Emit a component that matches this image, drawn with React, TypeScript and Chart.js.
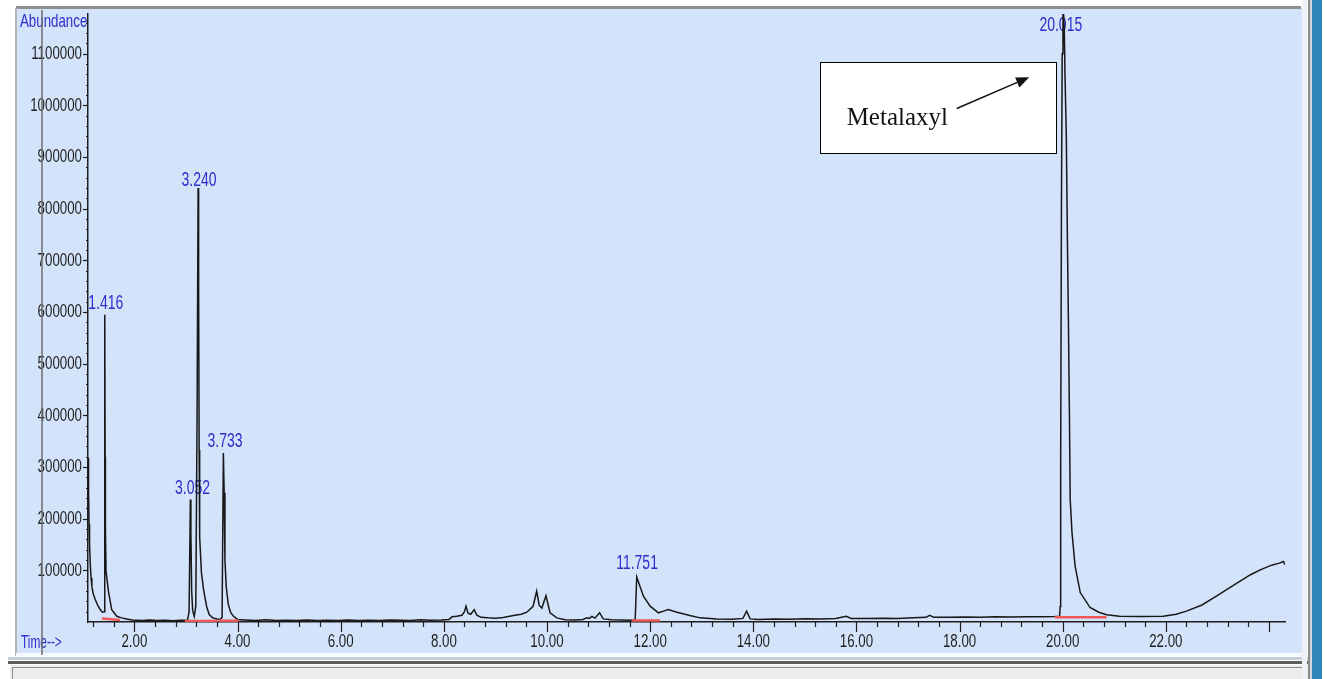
import React, { useEffect, useRef } from "react";
import { Chart, registerables } from "chart.js";

Chart.register(...registerables);

const W = 1325;
const H = 679;

// ---- chromatogram trace (retention time, abundance) ----
const traceTimes = [
  1.103, 1.108, 1.113, 1.12, 1.13, 1.145, 1.16, 1.175, 1.2, 1.24, 1.29, 1.336, 1.38,
  1.415, 1.425, 1.432, 1.438, 1.45, 1.5, 1.56, 1.66, 1.75, 1.85, 1.95, 2.05, 2.15,
  2.3, 2.45, 2.6, 2.75, 2.9, 3.03, 3.06, 3.085, 3.095, 3.11, 3.13, 3.16, 3.19, 3.215,
  3.235, 3.245, 3.255, 3.265, 3.3, 3.34, 3.4, 3.45, 3.52, 3.6, 3.66, 3.7, 3.725, 3.74,
  3.755, 3.78, 3.82, 3.87, 3.92, 4.0, 4.15, 4.35, 4.55, 4.75, 4.95, 5.15, 5.35, 5.55,
  5.75, 5.95, 6.15, 6.35, 6.55, 6.75, 6.95, 7.15, 7.35, 7.55, 7.75, 7.95, 8.1, 8.16,
  8.25, 8.35, 8.4, 8.43, 8.47, 8.52, 8.59, 8.64, 8.72, 8.85, 9.0, 9.15, 9.35, 9.5,
  9.61, 9.73, 9.8, 9.85, 9.9, 9.98, 10.03, 10.06, 10.19, 10.35, 10.55, 10.7, 10.77,
  10.82, 10.87, 10.93, 11.02, 11.09, 11.25, 11.45, 11.62, 11.71, 11.74, 11.79, 11.87,
  12.0, 12.16, 12.26, 12.35, 12.52, 12.77, 12.97, 13.29, 13.6, 13.8, 13.87, 13.94,
  14.1, 14.4, 14.7, 15.0, 15.3, 15.6, 15.8, 15.9, 16.2, 16.5, 16.8, 17.1, 17.35, 17.42,
  17.5, 17.8, 18.1, 18.4, 18.7, 19.0, 19.3, 19.6, 19.85, 19.94, 19.95, 19.96, 19.975,
  19.99, 20.005, 20.03, 20.045, 20.07, 20.09, 20.11, 20.13, 20.145, 20.18, 20.24, 20.34,
  20.53, 20.7, 20.85, 21.1, 21.5, 21.95, 22.2, 22.4, 22.7, 22.98, 23.2, 23.44, 23.65,
  23.83, 24.05, 24.2, 24.28, 24.31,
];

const traceAbundance = [
  240000, 318000, 250000, 190000, 150000, 110000, 85000, 69000, 55000, 43500, 32000, 24000, 19000,
  20000, 595000, 320000, 180000, 98000, 57000, 24000, 11000, 8000, 6000, 4000, 3500, 3000,
  4000, 3000, 3500, 2500, 3500, 4000, 20000, 237000, 173000, 60000, 22000, 11000, 30000, 400000,
  840000, 650000, 333000, 165000, 95000, 63000, 30000, 14500, 8000, 6000, 5000, 9000, 327000, 250000,
  120000, 69000, 34000, 18000, 11000, 5000, 4000, 3000, 4500, 3000, 3500, 3000, 4000, 3000,
  3500, 3000, 4000, 3000, 3500, 3000, 4000, 3500, 3000, 4500, 3500, 4000, 5000, 10000,
  11000, 13000, 20000, 30500, 17000, 15000, 24000, 13000, 9000, 8000, 7500, 8500, 12500, 15000,
  19000, 30500, 59600, 32000, 27000, 51000, 30000, 17800, 8000, 4500, 4000, 5000, 8000,
  7000, 11000, 7500, 18000, 6000, 4500, 4000, 3500, 4500, 87000, 72500, 50000,
  30600, 17800, 21000, 24000, 19000, 12600, 8000, 6000, 5500, 7000, 21000, 6000,
  5000, 6000, 5500, 6500, 6000, 7000, 11000, 7000, 7000, 7500, 7000, 8000, 9000, 13000,
  9000, 9000, 9500, 9000, 10000, 9500, 10000, 10000, 10500, 11000, 30000, 300000, 800000,
  1100000, 1200000, 1150000, 1055000, 940000, 746000, 585000, 400000, 237000, 173000, 108000, 57000,
  28000, 19000, 14000, 11000, 10500, 11000, 15000, 21000, 33000, 50000, 64000, 79000, 92000,
  101000, 110000, 114000, 117000, 111000,
];

// ---- integration baselines (red) ----
const baselineStart = [1.37, 2.98, 3.16, 3.64, 11.64, 19.85];
const baselineEnd = [1.72, 3.16, 3.62, 4.02, 12.19, 20.85];
const baselineStartLevel = [7000, 2000, 2000, 2500, 3000, 9000];
const baselineEndLevel = [4000, 2000, 2000, 2500, 3000, 9000];

// ---- peak labels ----
const peakLabels = ["1.416", "3.052", "3.240", "3.733", "11.751", "20.015"];
const peakLabelTimes = [1.445, 3.126, 3.252, 3.757, 11.746, 19.963];
const peakLabelLevels = [617500, 257500, 855600, 349000, 114000, 1154700];

// ---- axes ----
const xMin = 1.1;
const xMax = 24.31;
const yMin = 0;
const yMax = 1177000;
const xTickValues = [2, 4, 6, 8, 10, 12, 14, 16, 18, 20, 22];
const xTickLabels = ["2.00", "4.00", "6.00", "8.00", "10.00", "12.00", "14.00", "16.00", "18.00", "20.00", "22.00"];
const xMinorStep = 0.4;
const yTickValues = [100000, 200000, 300000, 400000, 500000, 600000, 700000, 800000, 900000, 1000000, 1100000];
const yTickLabels = ["100000", "200000", "300000", "400000", "500000", "600000", "700000", "800000", "900000", "1000000", "1100000"];
const yMinorStep = 20000;

const yAxisTitle = "Abundance";
const xAxisTitle = "Time-->";

// ---- annotation ----
const annotationText = "Metalaxyl";
const annotationBoxTimes = [15.29, 19.87];
const annotationBoxLevels = [1084000, 908000];
const annotationTextTime = 15.81;
const annotationTextLevel = 962000;
const arrowTimes = [17.945, 19.35];
const arrowLevels = [994000, 1054500];

const PANEL_BG = "#d3e3fa";
const BLUE_TEXT = "#2e2ecc";
const TICK_TEXT = "#1e1e1e";
const NARROW = 0.7;
const LABEL_FONT = "19px 'Liberation Sans', Arial, sans-serif";

function narrowText(
  ctx: CanvasRenderingContext2D,
  text: string,
  x: number,
  y: number,
  align: CanvasTextAlign,
  font: string,
  color: string,
  sx = NARROW
) {
  ctx.save();
  ctx.translate(x, y);
  ctx.scale(sx, 1);
  ctx.font = font;
  ctx.fillStyle = color;
  ctx.textAlign = align;
  ctx.textBaseline = "middle";
  ctx.fillText(text, 0, 0);
  ctx.restore();
}

const chromePlugin = {
  id: "chrome",
  beforeDraw(chart: any) {
    const ctx: CanvasRenderingContext2D = chart.ctx;
    ctx.save();
    ctx.fillStyle = "#ffffff";
    ctx.fillRect(0, 0, W, H);
    ctx.fillStyle = PANEL_BG;
    ctx.fillRect(16, 8, 1286, 648);
    // top border
    ctx.fillStyle = "#8e8e8e";
    ctx.fillRect(16, 6, 1285, 3);
    // left border
    ctx.fillStyle = "#b5b5b5";
    ctx.fillRect(15, 8, 2, 648);
    // bottom edge
    ctx.fillStyle = "#f5f8fd";
    ctx.fillRect(16, 653, 1286, 3);
    ctx.fillStyle = "#c5cfdb";
    ctx.fillRect(8, 657, 1300, 3);
    ctx.fillStyle = "#5e5e5e";
    ctx.fillRect(8, 661, 1300, 3);
    ctx.fillStyle = "#ededed";
    ctx.fillRect(10, 665, 1298, 14);
    ctx.strokeStyle = "#8c8c8c";
    ctx.lineWidth = 1;
    ctx.strokeRect(12.5, 667.5, 1294, 20);
    // right edge
    ctx.fillStyle = "#eef2f8";
    ctx.fillRect(1302, 0, 5, H);
    ctx.fillStyle = "#8a8a8a";
    ctx.fillRect(1308, 0, 2, H);
    ctx.fillStyle = "#cfd8e2";
    ctx.fillRect(1310, 0, 2, H);
    ctx.fillStyle = "#2f86b8";
    ctx.fillRect(1312, 0, 10, H);
    ctx.restore();
  },
  beforeDatasetsDraw(chart: any) {
    const ctx: CanvasRenderingContext2D = chart.ctx;
    const xs = chart.scales.x;
    const ys = chart.scales.y;
    const area = chart.chartArea;
    ctx.save();
    ctx.strokeStyle = "#1e1e1e";
    ctx.lineWidth = 1.2;
    // x ticks (minor every 0.4, longer on the 2-minute marks)
    for (let v = 1.2; v <= xMax + 1e-6; v += xMinorStep) {
      const px = Math.round(xs.getPixelForValue(v)) + 0.5;
      const isMajor = Math.abs(v / 2 - Math.round(v / 2)) < 1e-6;
      ctx.beginPath();
      ctx.moveTo(px, area.bottom);
      ctx.lineTo(px, area.bottom + (isMajor ? 10 : 5));
      ctx.stroke();
    }
    // y ticks
    for (let v = yMinorStep; v <= yMax; v += yMinorStep) {
      const py = Math.round(ys.getPixelForValue(v)) + 0.5;
      const isMajor = Math.abs(v / 100000 - Math.round(v / 100000)) < 1e-6;
      ctx.beginPath();
      ctx.moveTo(area.left, py);
      ctx.lineTo(area.left - (isMajor ? 5 : 2), py);
      ctx.stroke();
    }
    ctx.restore();
    // tick labels
    xTickValues.forEach((v, i) => {
      narrowText(ctx, xTickLabels[i], xs.getPixelForValue(v), area.bottom + 20, "center", LABEL_FONT, TICK_TEXT);
    });
    yTickValues.forEach((v, i) => {
      narrowText(ctx, yTickLabels[i], area.left - 6, ys.getPixelForValue(v), "right", LABEL_FONT, TICK_TEXT);
    });
    // axis titles
    narrowText(ctx, yAxisTitle, 20, 22, "left", LABEL_FONT, BLUE_TEXT);
    narrowText(ctx, xAxisTitle, 21, 643, "left", "18px 'Liberation Sans', Arial, sans-serif", BLUE_TEXT, 0.66);
    // peak labels
    peakLabels.forEach((t, i) => {
      narrowText(ctx, t, xs.getPixelForValue(peakLabelTimes[i]), ys.getPixelForValue(peakLabelLevels[i]), "center", "20px 'Liberation Sans', Arial, sans-serif", BLUE_TEXT);
    });
  },
  afterDraw(chart: any) {
    const ctx: CanvasRenderingContext2D = chart.ctx;
    const xs = chart.scales.x;
    const ys = chart.scales.y;
    ctx.save();
    // window separator line
    ctx.strokeStyle = "#6e6e6e";
    ctx.lineWidth = 1.5;
    ctx.beginPath();
    ctx.moveTo(42, 10);
    ctx.lineTo(42, 655);
    ctx.stroke();
    // annotation box
    const bx0 = Math.round(xs.getPixelForValue(annotationBoxTimes[0])) + 0.5;
    const bx1 = Math.round(xs.getPixelForValue(annotationBoxTimes[1])) + 0.5;
    const by0 = Math.round(ys.getPixelForValue(annotationBoxLevels[0])) + 0.5;
    const by1 = Math.round(ys.getPixelForValue(annotationBoxLevels[1])) + 0.5;
    ctx.fillStyle = "#ffffff";
    ctx.fillRect(bx0, by0, bx1 - bx0, by1 - by0);
    ctx.strokeStyle = "#000";
    ctx.lineWidth = 1;
    ctx.strokeRect(bx0, by0, bx1 - bx0, by1 - by0);
    ctx.fillStyle = "#111";
    ctx.font = "25px 'Liberation Serif', 'Times New Roman', serif";
    ctx.textAlign = "left";
    ctx.textBaseline = "alphabetic";
    ctx.fillText(annotationText, xs.getPixelForValue(annotationTextTime), ys.getPixelForValue(annotationTextLevel));
    // arrow
    const ax0 = xs.getPixelForValue(arrowTimes[0]);
    const ay0 = ys.getPixelForValue(arrowLevels[0]);
    const ax1 = xs.getPixelForValue(arrowTimes[1]);
    const ay1 = ys.getPixelForValue(arrowLevels[1]);
    const ang = Math.atan2(ay1 - ay0, ax1 - ax0);
    const headLen = 13;
    const headW = 5.5;
    const bx = ax1 - headLen * Math.cos(ang);
    const by = ay1 - headLen * Math.sin(ang);
    ctx.strokeStyle = "#111";
    ctx.lineWidth = 1.5;
    ctx.beginPath();
    ctx.moveTo(ax0, ay0);
    ctx.lineTo(bx, by);
    ctx.stroke();
    ctx.beginPath();
    ctx.moveTo(ax1, ay1);
    ctx.lineTo(bx + headW * Math.sin(ang), by - headW * Math.cos(ang));
    ctx.lineTo(bx - headW * Math.sin(ang), by + headW * Math.cos(ang));
    ctx.closePath();
    ctx.fill();
    ctx.restore();
  },
};

export default function App() {
  const ref = useRef<HTMLCanvasElement>(null);
  useEffect(() => {
    document.body.style.margin = "0";
    const canvas = ref.current;
    if (!canvas) return;
    const baselineSets = baselineStart.map((s, i) => ({
      label: "baseline" + i,
      data: [
        { x: s, y: baselineStartLevel[i] },
        { x: baselineEnd[i], y: baselineEndLevel[i] },
      ],
      borderColor: "#f05858",
      borderWidth: 2.5,
      pointRadius: 0,
      fill: false,
      tension: 0,
    }));
    const chart = new Chart(canvas, {
      type: "line",
      data: {
        datasets: [
          ...baselineSets,
          {
            label: "TIC",
            data: traceTimes.map((t, i) => ({ x: t, y: traceAbundance[i] })),
            borderColor: "#181818",
            borderWidth: 1.5,
            pointRadius: 0,
            fill: false,
            tension: 0,
          },
        ],
      },
      options: {
        animation: false,
        responsive: false,
        devicePixelRatio: 1,
        layout: { padding: { left: 0, top: 14, right: 40, bottom: 0 } },
        plugins: { legend: { display: false }, tooltip: { enabled: false } },
        scales: {
          x: {
            type: "linear",
            min: xMin,
            max: xMax,
            grid: { display: false, drawTicks: false },
            border: { display: true, color: "#1e1e1e", width: 1.5 },
            ticks: { display: false },
            afterFit: (s: any) => {
              s.height = 57;
            },
          },
          y: {
            type: "linear",
            min: yMin,
            max: yMax,
            grid: { display: false, drawTicks: false },
            border: { display: true, color: "#1e1e1e", width: 1.5 },
            ticks: { display: false },
            afterFit: (s: any) => {
              s.width = 88;
            },
          },
        },
      },
      plugins: [chromePlugin],
    } as any);
    return () => chart.destroy();
  }, []);
  return (
    <div style={{ position: "fixed", left: 0, top: 0, width: W, height: H }}>
      <canvas ref={ref} width={W} height={H} style={{ display: "block", width: W, height: H }} />
    </div>
  );
}
